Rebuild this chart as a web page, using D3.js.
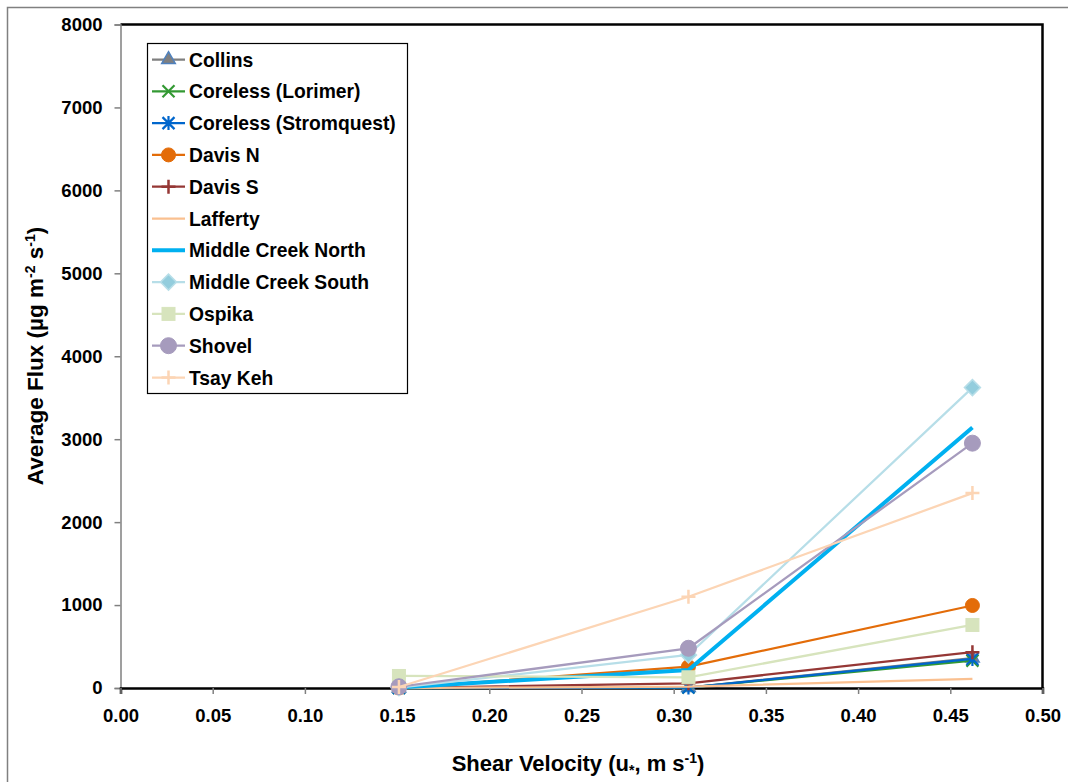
<!DOCTYPE html>
<html>
<head>
<meta charset="utf-8">
<script src="https://cdn.jsdelivr.net/npm/d3@7"></script>
<style>
  html, body { margin: 0; padding: 0; background: #fff; }
  svg { display: block; font-family: "Liberation Sans", Arial, sans-serif; }
</style>
</head>
<body>
<svg id="chart" width="1068" height="782"></svg>
<script>
// Shear velocity at which flux was measured (m/s)
const velocities = [0.151, 0.308, 0.462];

const siteNames = [
  "Collins", "Coreless (Lorimer)", "Coreless (Stromquest)", "Davis N", "Davis S",
  "Lafferty", "Middle Creek North", "Middle Creek South", "Ospika", "Shovel", "Tsay Keh"
];

// Average flux (µg m-2 s-1) at each velocity, one array per site
const collins      = [0, 5, 360];
const corelessLor  = [0, 5, 330];
const corelessStr  = [0, 5, 350];
const davisN       = [0, 257, 995];
const davisS       = [0, 57, 432];
const lafferty     = [0, 16, 110];
const middleNorth  = [5, 217, 3140];
const middleSouth  = [5, 398, 3622];
const ospika       = [145, 129, 760];
const shovel       = [15, 479, 2952];
const tsayKeh      = [12, 1100, 2350];

const fluxBySite = [collins, corelessLor, corelessStr, davisN, davisS,
                    lafferty, middleNorth, middleSouth, ospika, shovel, tsayKeh];

const xTicks = [0, 0.05, 0.10, 0.15, 0.20, 0.25, 0.30, 0.35, 0.40, 0.45, 0.50];
const yTicks = [0, 1000, 2000, 3000, 4000, 5000, 6000, 7000, 8000];

// Per-site styling: line colour, marker type, marker fill/stroke
const styles = [
  { line: "#7f7f7f", w: 2.25, marker: "triangle", fill: "#7f7f7f", stroke: "#4f81bd" },
  { line: "#339933", w: 2.25, marker: "x",        fill: "none",    stroke: "#339933" },
  { line: "#0066cc", w: 2.25, marker: "star",     fill: "none",    stroke: "#0066cc" },
  { line: "#e36c09", w: 2.25, marker: "circle",   fill: "#e36c09", stroke: "#e36c09", r: 7 },
  { line: "#953735", w: 2.25, marker: "plus",     fill: "none",    stroke: "#953735" },
  { line: "#fac090", w: 2.25, marker: "none" },
  { line: "#00b0f0", w: 4,    marker: "none" },
  { line: "#b7dee8", w: 2.25, marker: "diamond",  fill: "#93cddd", stroke: "#b7dee8" },
  { line: "#d7e4bd", w: 2.25, marker: "square",   fill: "#d7e4bd", stroke: "#d7e4bd" },
  { line: "#a69bbd", w: 2.25, marker: "circle",   fill: "#a69bbd", stroke: "#a69bbd", r: 8 },
  { line: "#fcd5b5", w: 2.25, marker: "plus",     fill: "none",    stroke: "#fcd5b5" }
];

const svg = d3.select("#chart");

// Outer chart frame
svg.append("path")
  .attr("d", "M7.5,790 V7.5 H1080")
  .attr("fill", "none").attr("stroke", "#808080").attr("stroke-width", 1.5);

const plot = { left: 120.5, right: 1042.5, top: 24.5, bottom: 688 };

const x = d3.scaleLinear().domain([0, 0.5]).range([plot.left, plot.right]);
const y = d3.scaleLinear().domain([0, 8000]).range([plot.bottom, plot.top]);

// Plot-area border (top and right)
svg.append("path")
  .attr("d", `M${plot.left},${plot.top} H${plot.right} V${plot.bottom}`)
  .attr("fill", "none").attr("stroke", "#000").attr("stroke-width", 2.5);

// Y axis
const yAxis = d3.axisLeft(y).tickValues(yTicks).tickSize(6).tickPadding(12)
  .tickFormat(d3.format("d"));
const gy = svg.append("g").attr("transform", `translate(${plot.left},0)`).call(yAxis);
gy.select(".domain").attr("stroke", "#808080").attr("stroke-width", 1.5);
gy.selectAll(".tick line").attr("stroke", "#808080").attr("stroke-width", 1.5);
gy.selectAll(".tick text").attr("font-size", 18.5).attr("font-weight", "bold")
  .attr("fill", "#000").attr("font-family", "Liberation Sans, Arial, sans-serif");

// X axis
const xAxis = d3.axisBottom(x).tickValues(xTicks).tickSize(6).tickPadding(15)
  .tickFormat(d3.format(".2f"));
const gx = svg.append("g").attr("transform", `translate(0,${plot.bottom})`).call(xAxis);
gx.select(".domain").attr("stroke", "#000").attr("stroke-width", 2.5);
gx.selectAll(".tick line").attr("stroke", "#808080").attr("stroke-width", 1.5);
gx.selectAll(".tick text").attr("font-size", 18.5).attr("font-weight", "bold")
  .attr("fill", "#000").attr("font-family", "Liberation Sans, Arial, sans-serif");

// Axis titles
const xTitle = svg.append("text")
  .attr("x", 578).attr("y", 771)
  .attr("text-anchor", "middle").attr("font-size", 22).attr("font-weight", "bold");
xTitle.append("tspan").text("Shear Velocity (u");
xTitle.append("tspan").attr("font-size", 14).attr("dy", 4).text("*");
xTitle.append("tspan").attr("dy", -4).text(", m s");
xTitle.append("tspan").attr("font-size", 14).attr("dy", -8).text("-1");
xTitle.append("tspan").attr("dy", 8).text(")");

const yTitle = svg.append("text")
  .attr("transform", "translate(43,356) rotate(-90)")
  .attr("text-anchor", "middle").attr("font-size", 22.5).attr("font-weight", "bold");
yTitle.append("tspan").text("Average Flux (µg m");
yTitle.append("tspan").attr("font-size", 14).attr("dy", -8).text("-2");
yTitle.append("tspan").attr("dy", 8).text(" s");
yTitle.append("tspan").attr("font-size", 14).attr("dy", -8).text("-1");
yTitle.append("tspan").attr("dy", 8).text(")");

// Marker drawing helper
function drawMarker(g, st) {
  const s = 6;
  switch (st.marker) {
    case "triangle":
      g.append("path").attr("d", d3.symbol(d3.symbolTriangle, 80)())
        .attr("fill", st.fill).attr("stroke", st.stroke).attr("stroke-width", 1.5);
      break;
    case "x":
      g.append("path").attr("d", `M${-s},${-s}L${s},${s}M${-s},${s}L${s},${-s}`)
        .attr("stroke", st.stroke).attr("stroke-width", 2.2);
      break;
    case "star":
      g.append("path")
        .attr("d", `M${-s},${-s}L${s},${s}M${-s},${s}L${s},${-s}M0,${-s - 1}L0,${s + 1}`)
        .attr("stroke", st.stroke).attr("stroke-width", 2.2);
      break;
    case "plus":
      g.append("path").attr("d", `M${-s - 1},0L${s + 1},0M0,${-s - 1}L0,${s + 1}`)
        .attr("stroke", st.stroke).attr("stroke-width", 2.5);
      break;
    case "circle":
      g.append("circle").attr("r", st.r || 7).attr("fill", st.fill).attr("stroke", st.stroke);
      break;
    case "diamond":
      g.append("path").attr("d", "M0,-8L8,0L0,8L-8,0Z")
        .attr("fill", st.fill).attr("stroke", st.stroke).attr("stroke-width", 1.5);
      break;
    case "square":
      g.append("rect").attr("x", -6.5).attr("y", -6.5).attr("width", 13).attr("height", 13)
        .attr("fill", st.fill).attr("stroke", st.stroke);
      break;
  }
}

// Series lines and markers
const line = d3.line().x((d, i) => x(velocities[i])).y(d => y(d));
const series = svg.append("g");
fluxBySite.forEach((vals, k) => {
  const st = styles[k];
  const g = series.append("g");
  g.append("path").datum(vals).attr("d", line)
    .attr("fill", "none").attr("stroke", st.line).attr("stroke-width", st.w)
    .attr("stroke-linejoin", "round");
  if (st.marker !== "none") {
    vals.forEach((v, i) => {
      drawMarker(g.append("g").attr("transform", `translate(${x(velocities[i])},${y(v)})`), st);
    });
  }
});

// Legend
const legend = svg.append("g");
legend.append("rect").attr("x", 147.5).attr("y", 43.5).attr("width", 260).attr("height", 350)
  .attr("fill", "#fff").attr("stroke", "#000").attr("stroke-width", 1.2);
siteNames.forEach((name, k) => {
  const st = styles[k];
  const cy = 59.5 + k * 31.8;
  const item = legend.append("g").attr("transform", `translate(0,${cy})`);
  item.append("line").attr("x1", 152).attr("x2", 185).attr("y1", 0).attr("y2", 0)
    .attr("stroke", st.line).attr("stroke-width", st.w);
  if (st.marker !== "none") drawMarker(item.append("g").attr("transform", "translate(168.5,0)"), st);
  item.append("text").attr("x", 189).attr("y", 7)
    .attr("font-size", 19.3).attr("font-weight", "bold").attr("fill", "#000").text(name);
});
</script>
</body>
</html>
